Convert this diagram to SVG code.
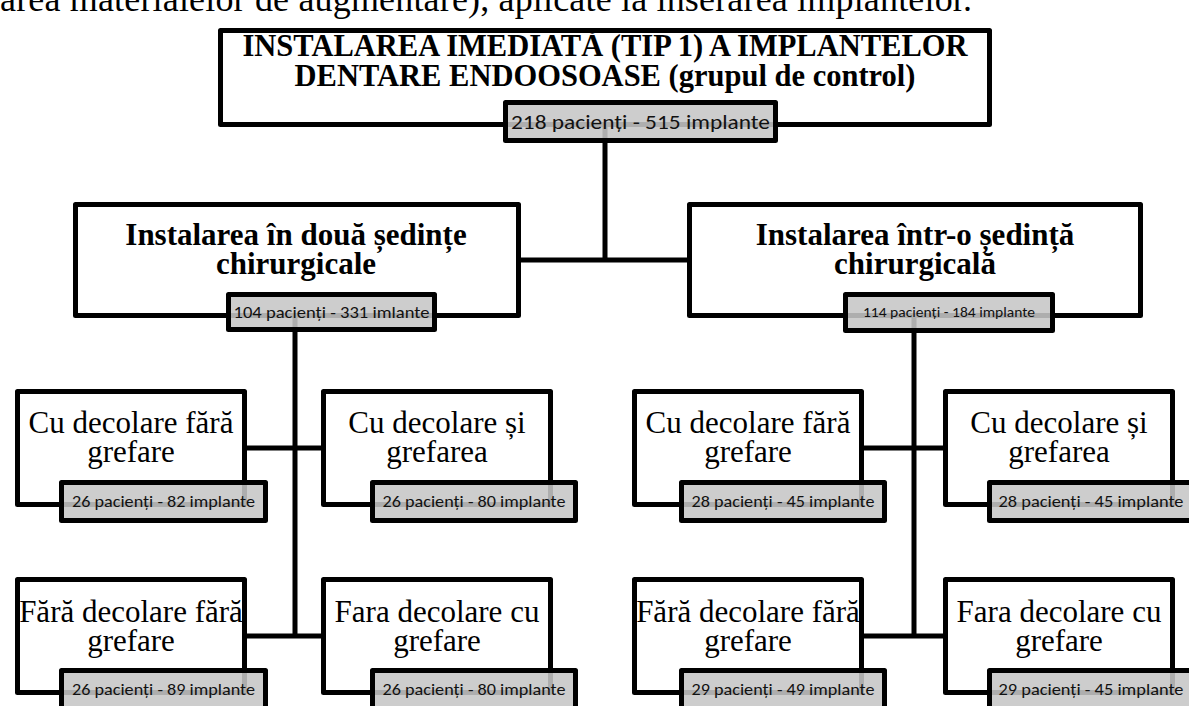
<svg xmlns="http://www.w3.org/2000/svg" width="1189" height="706" viewBox="0 0 1189 706">
<style>
.box{fill:#fff;stroke:#000;stroke-width:5;stroke-linejoin:round}
.lbl{fill:#c6c6c6;fill-opacity:0.88;stroke:#000;stroke-width:5;stroke-linejoin:round}
.con{stroke:#000;stroke-width:5;fill:none}
.tb{font-family:"Liberation Serif","Times New Roman",serif;font-weight:bold;text-anchor:middle;fill:#000}
.tr{font-family:"Liberation Serif","Times New Roman",serif;font-size:31px;text-anchor:middle;fill:#000}
.ls{font-family:Carlito,Lato,"Open Sans",sans-serif;text-anchor:middle;fill:#111}
.leaf{font-size:16.5px}
</style>
<rect width="1189" height="706" fill="#fff"/>
<text x="0" y="11" font-family="Liberation Serif, serif" font-size="36" textLength="972" lengthAdjust="spacing">area materialelor de augmentare), aplicate la inserarea implantelor.</text>

<g id="n-top"><rect class="box" x="220.5" y="30.5" width="769" height="94"/>
<text class="tb" x="605" y="56" font-size="30.5">INSTALAREA IMEDIATĂ (TIP 1) A IMPLANTELOR</text>
<text class="tb" x="605" y="86" font-size="30.5">DENTARE ENDOOSOASE (grupul de control)</text></g>
<g id="n-midL"><rect class="box" x="75.5" y="204.5" width="443" height="111"/>
<text class="tb" x="296" y="245" font-size="31">Instalarea în două ședințe</text>
<text class="tb" x="296" y="274" font-size="31">chirurgicale</text></g>
<g id="n-midR"><rect class="box" x="689.5" y="204.5" width="451" height="111"/>
<text class="tb" x="915" y="245" font-size="31">Instalarea într-o ședință</text>
<text class="tb" x="915" y="274" font-size="31">chirurgicală</text></g>

<g id="n-L1"><rect class="box" x="17.5" y="391.5" width="227" height="113"/>
<text class="tr" x="131" y="433">Cu decolare fără</text><text class="tr" x="131" y="462">grefare</text></g>
<g id="n-L2"><rect class="box" x="323.5" y="391.5" width="227" height="113"/>
<text class="tr" x="437" y="433">Cu decolare și</text><text class="tr" x="437" y="462">grefarea</text></g>
<g id="n-L3"><rect class="box" x="17.5" y="579.5" width="227" height="113"/>
<text class="tr" x="131" y="622">Fără decolare fără</text><text class="tr" x="131" y="651">grefare</text></g>
<g id="n-L4"><rect class="box" x="323.5" y="579.5" width="227" height="113"/>
<text class="tr" x="437" y="622">Fara decolare cu</text><text class="tr" x="437" y="651">grefare</text></g>
<g id="n-R1"><rect class="box" x="634.5" y="391.5" width="227" height="113"/>
<text class="tr" x="748" y="433">Cu decolare fără</text><text class="tr" x="748" y="462">grefare</text></g>
<g id="n-R2"><rect class="box" x="945.5" y="391.5" width="227" height="113"/>
<text class="tr" x="1059" y="433">Cu decolare și</text><text class="tr" x="1059" y="462">grefarea</text></g>
<g id="n-R3"><rect class="box" x="634.5" y="579.5" width="227" height="113"/>
<text class="tr" x="748" y="622">Fără decolare fără</text><text class="tr" x="748" y="651">grefare</text></g>
<g id="n-R4"><rect class="box" x="945.5" y="579.5" width="227" height="113"/>
<text class="tr" x="1059" y="622">Fara decolare cu</text><text class="tr" x="1059" y="651">grefare</text></g>

<g id="connectors">
<path class="con" d="M605,127 V260 M521,260 H687"/>
<path class="con" d="M295,318 V638 M247,448 H321 M247,636 H321"/>
<path class="con" d="M914,318 V638 M864,448 H943 M864,636 H943"/>
</g>

<g id="labels">
<g id="l-top"><rect class="lbl" x="505.5" y="102.5" width="270" height="38"/>
<text class="ls" x="640.5" y="129" font-size="21" textLength="259" lengthAdjust="spacingAndGlyphs">218 pacienți - 515 implante</text></g>
<g id="l-midL"><rect class="lbl" x="228.5" y="294.5" width="206" height="35"/>
<text class="ls" x="331.5" y="318" font-size="16.5" textLength="196" lengthAdjust="spacingAndGlyphs">104 pacienți - 331 imlante</text></g>
<g id="l-midR"><rect class="lbl" x="845.5" y="294.5" width="207" height="36"/>
<text class="ls" x="949" y="317" font-size="14" textLength="172" lengthAdjust="spacingAndGlyphs">114 pacienți - 184 implante</text></g>
<g id="l-L1"><rect class="lbl" x="61.5" y="482.5" width="204" height="38"/>
<text class="ls leaf" x="163.5" y="507" textLength="183" lengthAdjust="spacingAndGlyphs">26 pacienți - 82 implante</text></g>
<g id="l-L2"><rect class="lbl" x="372.5" y="482.5" width="203" height="38"/>
<text class="ls leaf" x="474" y="507" textLength="183" lengthAdjust="spacingAndGlyphs">26 pacienți - 80 implante</text></g>
<g id="l-L3"><rect class="lbl" x="61.5" y="670.5" width="204" height="38"/>
<text class="ls leaf" x="163.5" y="695" textLength="183" lengthAdjust="spacingAndGlyphs">26 pacienți - 89 implante</text></g>
<g id="l-L4"><rect class="lbl" x="372.5" y="670.5" width="203" height="38"/>
<text class="ls leaf" x="474" y="695" textLength="183" lengthAdjust="spacingAndGlyphs">26 pacienți - 80 implante</text></g>
<g id="l-R1"><rect class="lbl" x="681.5" y="482.5" width="203" height="38"/>
<text class="ls leaf" x="783" y="507" textLength="183" lengthAdjust="spacingAndGlyphs">28 pacienți - 45 implante</text></g>
<g id="l-R2"><rect class="lbl" x="989.5" y="482.5" width="203" height="38"/>
<text class="ls leaf" x="1091" y="507" textLength="185" lengthAdjust="spacingAndGlyphs">28 pacienți - 45 implante</text></g>
<g id="l-R3"><rect class="lbl" x="681.5" y="670.5" width="203" height="38"/>
<text class="ls leaf" x="783" y="695" textLength="183" lengthAdjust="spacingAndGlyphs">29 pacienți - 49 implante</text></g>
<g id="l-R4"><rect class="lbl" x="989.5" y="670.5" width="203" height="38"/>
<text class="ls leaf" x="1091" y="695" textLength="185" lengthAdjust="spacingAndGlyphs">29 pacienți - 45 implante</text></g>
</g>
</svg>
